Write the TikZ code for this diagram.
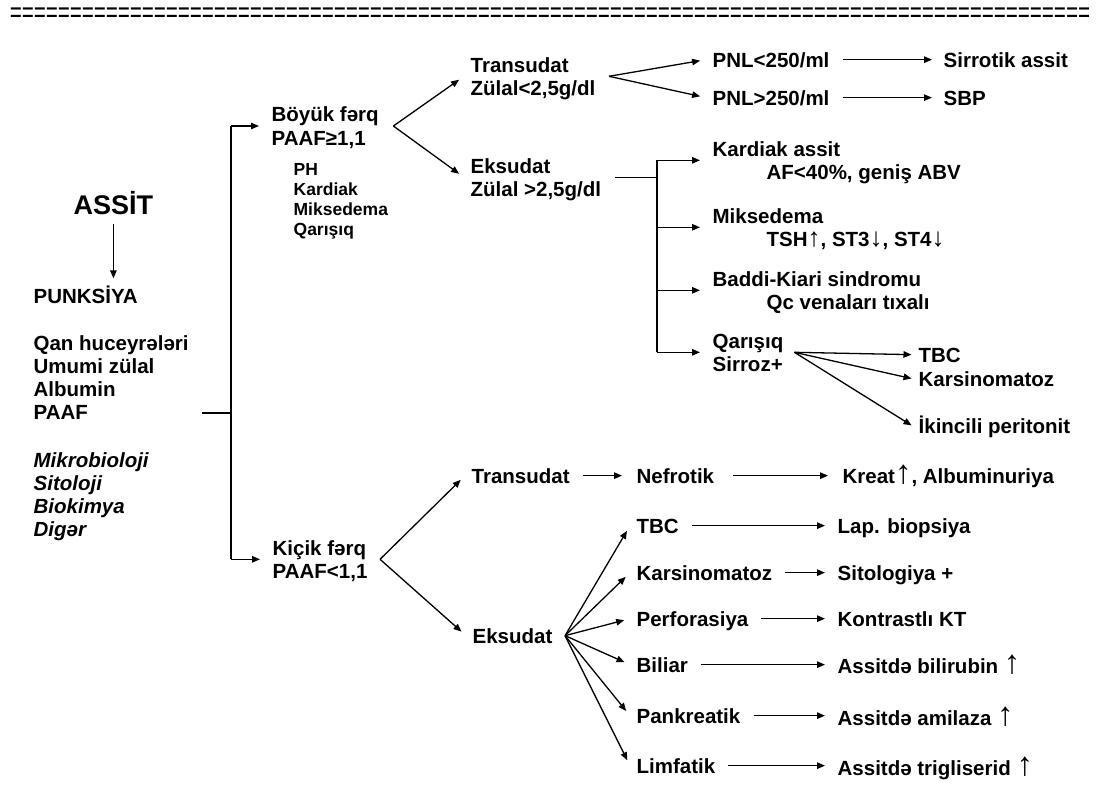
\documentclass[tikz,border=0pt]{standalone}
\usepackage{fontspec}
\setmainfont{Liberation Sans}
\usetikzlibrary{arrows.meta}

% text sizes
\newcommand\mainsize{\fontsize{20.5}{23.3}\selectfont\bfseries}
\newcommand\smallsize{\fontsize{17.5}{20}\selectfont\bfseries}
\newcommand\titlesize{\fontsize{27}{30}\selectfont\bfseries}
% stacked lines, baseline on the first line
\newcommand\twoln[2]{\begin{tabular}[t]{@{}l@{}}#1\\#2\end{tabular}}
\newcommand\fourln[4]{\begin{tabular}[t]{@{}l@{}}#1\\#2\\#3\\#4\end{tabular}}
% thin arrows: rise / fall inside a line, and the large "increase" arrow
\newcommand\rise{{\fontsize{26}{26}\selectfont\mdseries ↑}}
\newcommand\fall{{\fontsize{26}{26}\selectfont\mdseries ↓}}
\newcommand\upar{{\fontsize{33}{33}\selectfont\mdseries ↑}}

\begin{document}
\begin{tikzpicture}[x=1pt, y=-1pt, line width=1.3pt,
  txt/.style={font=\mainsize, inner xsep=6pt, inner ysep=0pt,
              text height=16pt, text depth=1.3pt, anchor=base west},
  txt2/.style={txt, text depth=24.6pt},
  plain/.style={font=\mainsize, inner xsep=6pt, inner ysep=0pt, anchor=base west},
  arr/.style={-{Triangle[length=8pt,width=6.5pt]}, shorten >=6pt, shorten <=6.5pt},
  fork/.style={arr, shorten <=0pt}]

\useasboundingbox (0,0) rectangle (1101,785);

% separator line at the top
\node[anchor=base west, inner sep=0pt, font=\fontsize{20.55}{20}\selectfont\itshape] (sep) at (9,22)
  {\scalebox{1}[1.45]{==========================================================================================}};

% left column
\node[plain, font=\titlesize] (assit) at (67,214) {ASSİT};
\node[txt] (punk) at (27,303) {PUNKSİYA};
\node[plain] (tests) at (27,350) {\fourln{Qan huceyrələri}{Umumi zülal}{Albumin}{PAAF}};
\node[plain, font=\mainsize\itshape] (micro) at (27,467) {\fourln{Mikrobioloji}{Sitoloji}{Biokimya}{Digər}};

% first split
\node[txt2] (boyuk) at (265,121.7) {\twoln{Böyük fərq}{PAAF≥1,1}};
\node[plain, font=\smallsize] (causes) at (287,175) {\fourln{PH}{Kardiak}{Miksedema}{Qarışıq}};
\node[txt2] (kicik) at (266,555) {\twoln{Kiçik fərq}{PAAF<1,1}};

% high gradient branch
\node[txt2] (tr1) at (464,72) {\twoln{Transudat}{Zülal<2,5g/dl}};
\node[txt2] (ek1) at (464,173) {\twoln{Eksudat}{Zülal >2,5g/dl}};
\node[txt] (pnl1) at (706,67) {PNL<250/ml};
\node[txt] (pnl2) at (706,105) {PNL>250/ml};
\node[txt] (sir) at (937,67) {Sirrotik assit};
\node[txt] (sbp) at (937,105) {SBP};
\node[txt2] (kard) at (706,156) {\twoln{Kardiak assit}{\hspace*{54pt}AF<40\%, geniş ABV}};
\node[txt2] (miks) at (706,223) {\twoln{Miksedema}{\hspace*{54pt}TSH\rise, ST3\fall, ST4\fall}};
\node[txt2] (baddi) at (706,286) {\twoln{Baddi-Kiari sindromu}{\hspace*{54pt}Qc venaları tıxalı}};
\node[txt2] (qar) at (706,348) {\twoln{Qarışıq}{Sirroz+}};
\node[txt] (tbc1) at (912,362) {TBC};
\node[txt] (kar1) at (912,386) {Karsinomatoz};
\node[txt] (ikin) at (912,433) {İkincili peritonit};

% low gradient branch
\node[txt] (tr2) at (465,483) {Transudat};
\node[txt] (nef) at (630,483) {Nefrotik};
\node[txt] (kreat) at (836,483) {Kreat\upar, Albuminuriya};
\node[txt] (ek2) at (466,643) {Eksudat};
\node[txt] (tbc2) at (630,533) {TBC};
\node[txt] (kar2) at (630,580) {Karsinomatoz};
\node[txt] (perf) at (630,626) {Perforasiya};
\node[txt] (bil) at (630,672) {Biliar};
\node[txt] (pank) at (630,723) {Pankreatik};
\node[txt] (limf) at (630,773) {Limfatik};
\node[txt] (lap) at (831,533) {Lap. biopsiya};
\node[txt] (sit) at (831,580) {Sitologiya +};
\node[txt] (kont) at (831,626) {Kontrastlı KT};
\node[txt] (bilr) at (831,673) {Assitdə bilirubin \upar};
\node[txt] (amil) at (831,725) {Assitdə amilaza \upar};
\node[txt] (trig) at (831,775) {Assitdə trigliserid \upar};

% junction points
\coordinate (pa) at (202,413);
\coordinate (j1) at ([xshift=-34pt]boyuk.west);
\coordinate (j2) at ([xshift=-35pt]kicik.west);
\coordinate (v1) at ([xshift=8pt]boyuk.east);
\coordinate (v2) at ([xshift=7pt]tr1.east);
\coordinate (e1) at ([xshift=-49pt]kard.west);
\coordinate (v3) at ([xshift=4.5pt]qar.east);
\coordinate (v4) at ([xshift=6pt]kicik.east);
\coordinate (v5) at ([xshift=6pt]ek2.east);

% connectors
\draw[arr, shorten <=10pt, shorten >=8pt] (assit.base) -- (assit.base |- punk.north);
\draw (pa) -- (pa -| j1);
\draw (j1) -- (j2);
\draw[fork] (j1) -- (boyuk.west);
\draw[fork] (j2) -- (kicik.west);

\draw[fork] (v1) -- (tr1.west);
\draw[fork] (v1) -- (ek1.west);
\draw[fork] (v2) -- (pnl1.west);
\draw[fork] (v2) -- (pnl2.west);
\draw[arr, shorten >=5pt] (pnl1.east) -- (sir.west);
\draw[arr, shorten >=5pt] (pnl2.east) -- (sbp.west);

\draw ([xshift=7.5pt]ek1.east) -- (ek1.east -| e1);
\draw (e1) -- (e1 |- qar.west);
\draw[fork] (e1) -- (kard.west);
\draw[fork] (e1 |- miks.west) -- (miks.west);
\draw[fork] (e1 |- baddi.west) -- (baddi.west);
\draw[fork] (e1 |- qar.west) -- (qar.west);
\draw[fork, shorten >=0.5pt] (v3) -- (tbc1.west);
\draw[fork, shorten >=0.5pt] (v3) -- (kar1.west);
\draw[fork, shorten >=0.5pt] (v3) -- (ikin.west);

\draw[fork] (v4) -- (tr2.west);
\draw[fork] (v4) -- (ek2.west);
\draw[arr, shorten >=8pt] (tr2.east) -- (nef.west);
\draw[arr, shorten <=12.5pt, shorten >=8pt] (nef.east) -- (kreat.west);
\foreach \n in {tbc2,kar2,perf,bil,pank,limf}
  \draw[fork] (v5) -- (\n.west);
\draw[arr] (tbc2.east) -- (tbc2.east -| lap.west);
\draw[arr] (kar2.east) -- (kar2.east -| sit.west);
\draw[arr] (perf.east) -- (perf.east -| kont.west);
\draw[arr] (bil.east) -- (bil.east -| bilr.west);
\draw[arr] (pank.east) -- (pank.east -| amil.west);
\draw[arr] (limf.east) -- (limf.east -| trig.west);
\end{tikzpicture}
\end{document}
